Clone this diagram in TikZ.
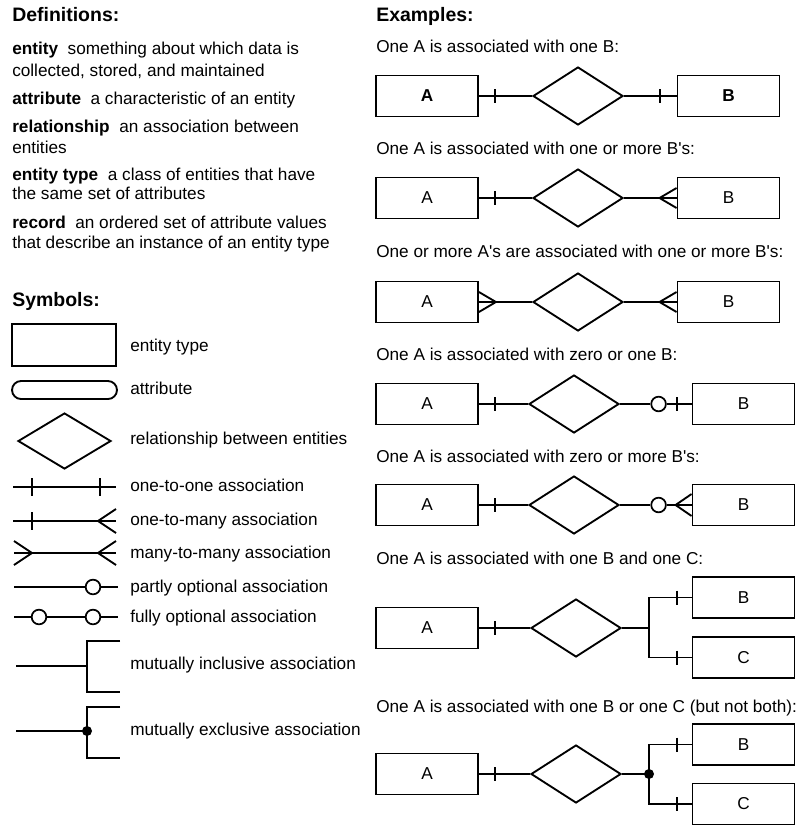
\documentclass[tikz,border=0pt]{standalone}
\usepackage{fontspec}
\setmainfont{Liberation Sans}[Ligatures=TeXOff]
\usetikzlibrary{shapes.geometric,calc}
\begin{document}
\begin{tikzpicture}[x=0.75pt,y=-0.75pt,
  txt/.style={anchor=base west, inner sep=0pt, font=\fontsize{12.9pt}{15pt}\selectfont},
  head/.style={anchor=base west, inner sep=0pt, font=\fontsize{14.6pt}{17pt}\selectfont\bfseries},
  ent/.style={draw, line width=1.4pt, minimum width=76.5pt, minimum height=30.75pt, inner sep=0pt, font=\fontsize{12.9pt}{15pt}\selectfont},
  rel/.style={draw, diamond, line width=1.4pt, minimum width=67.5pt, minimum height=43.5pt, inner sep=0pt},
  conn/.style={line width=1.4pt},
  ring/.style={circle, draw, line width=1.3pt, fill=white, minimum size=11pt, inner sep=0pt},
  dot/.style={circle, fill=black, minimum size=7.5pt, inner sep=0pt},
]
\useasboundingbox[fill=white] (0,0) rectangle (810,829);

% ---------------- Definitions ----------------
\node[head] (hdef) at (12,21) {Definitions:};
\node[txt] (d1a) at (12,54) {\textbf{entity}\ \ something about which data is};
\node[txt] (d1b) at (12,76) {collected, stored, and maintained};
\node[txt] (d2a) at (12,104) {\textbf{attribute}\ \ a characteristic of an entity};
\node[txt] (d3a) at (12,132) {\textbf{relationship}\ \ an association between};
\node[txt] (d3b) at (12,153) {entities};
\node[txt] (d4a) at (12,180) {\textbf{entity type}\ \ a class of entities that have};
\node[txt] (d4b) at (12,199) {the same set of attributes};
\node[txt] (d5a) at (12,228) {\textbf{record}\ \ an ordered set of attribute values};
\node[txt] (d5b) at (12,248) {that describe an instance of an entity type};

% ---------------- Symbols ----------------
\node[head] (hsym) at (12,306) {Symbols:};

\node[draw, line width=1.4pt, minimum width=78pt, minimum height=31.5pt, inner sep=0pt] (sent) at (64,345) {};
\node[txt] (lent) at (130,351) {entity type};

\node[draw, line width=1.4pt, rounded corners=6.75pt, minimum width=78.75pt, minimum height=13.5pt, inner sep=0pt] (satt) at (64.5,390) {};
\node[txt] (latt) at (130,394) {attribute};

\node[rel, minimum width=69.75pt, minimum height=42pt] (srel) at (64.5,441) {};
\node[txt] (lrel) at (130,444) {relationship between entities};

% one-to-one
\coordinate (oo1) at (13,487); \coordinate (oo2) at (116,487);
\draw[conn] (oo1) -- (oo2);
\draw[conn] ($(oo1)+(19,-9)$) -- ++(0,18);
\draw[conn] ($(oo2)+(-16,-9)$) -- ++(0,18);
\node[txt] (loo) at (130,491) {one-to-one association};

% one-to-many
\coordinate (om1) at (13,521); \coordinate (om2) at (116,521);
\draw[conn] (om1) -- (om2);
\draw[conn] ($(om1)+(19,-9)$) -- ++(0,18);
\draw[conn] ($(om2)+(0,-12)$) -- ($(om2)+(-18,0)$) -- ($(om2)+(0,12)$);
\node[txt] (lom) at (130,525) {one-to-many association};

% many-to-many
\coordinate (mm1) at (14,553); \coordinate (mm2) at (116,553);
\draw[conn] (mm1) -- (mm2);
\draw[conn] ($(mm1)+(0,-12)$) -- ($(mm1)+(18,0)$) -- ($(mm1)+(0,12)$);
\draw[conn] ($(mm2)+(0,-12)$) -- ($(mm2)+(-18,0)$) -- ($(mm2)+(0,12)$);
\node[txt] (lmm) at (130,558) {many-to-many association};

% partly optional
\coordinate (po1) at (14,587); \coordinate (po2) at (118,587);
\node[ring] (por) at (93,587) {};
\draw[conn] (po1) -- (por) -- (po2);
\node[txt] (lpo) at (130,592) {partly optional association};

% fully optional
\coordinate (fo1) at (14,617); \coordinate (fo2) at (118,617);
\node[ring] (fol) at (39,617) {};
\node[ring] (forr) at (93,617) {};
\draw[conn] (fo1) -- (fol) -- (forr) -- (fo2);
\node[txt] (lfo) at (130,622) {fully optional association};

% mutually inclusive
\coordinate (mi0) at (16,666); \coordinate (mij) at (87,666);
\coordinate (mit) at (120,641); \coordinate (mib) at (120,692);
\draw[conn] (mi0) -- (mij);
\draw[conn] (mit) -| (mij) |- (mib);
\node[txt] (lmi) at (130,669) {mutually inclusive association};

% mutually exclusive
\coordinate (me0) at (16,731); \coordinate (mej) at (87,731);
\coordinate (met) at (120,707); \coordinate (meb) at (120,758);
\draw[conn] (me0) -- (mej);
\draw[conn] (met) -| (mej) |- (meb);
\node[dot] (med) at (mej) {};
\node[txt] (lme) at (130,735) {mutually exclusive association};

% ---------------- Examples ----------------
\node[head] (hex) at (376,21) {Examples:};

% 1 : 1
\node[txt] (t1) at (376,52) {One A is associated with one B:};
\node[ent] (a1) at (427,96) {\textbf{A}};
\node[rel] (r1) at (578,96) {};
\node[ent] (b1) at (728.5,96) {\textbf{B}};
\draw[conn] (a1) -- (r1);
\draw[conn] (r1) -- (b1);
\draw[conn] ($(a1.east)+(16,-7)$) -- ++(0,14);
\draw[conn] ($(b1.west)+(-17,-7)$) -- ++(0,14);

% 1 : many
\node[txt] (t2) at (376,154) {One A is associated with one or more B's:};
\node[ent] (a2) at (427,198) {A};
\node[rel] (r2) at (578,198) {};
\node[ent] (b2) at (728.5,198) {B};
\draw[conn] (a2) -- (r2);
\draw[conn] (r2) -- (b2);
\draw[conn] ($(a2.east)+(16,-7)$) -- ++(0,14);
\draw[conn] ($(b2.west)+(0,-10)$) -- ($(b2.west)+(-17,0)$) -- ($(b2.west)+(0,10)$);

% many : many
\node[txt] (t3) at (376,257) {One or more A's are associated with one or more B's:};
\node[ent] (a3) at (427,302) {A};
\node[rel] (r3) at (578,302) {};
\node[ent] (b3) at (728.5,302) {B};
\draw[conn] (a3) -- (r3);
\draw[conn] (r3) -- (b3);
\draw[conn] ($(a3.east)+(0,-10)$) -- ($(a3.east)+(17,0)$) -- ($(a3.east)+(0,10)$);
\draw[conn] ($(b3.west)+(0,-10)$) -- ($(b3.west)+(-17,0)$) -- ($(b3.west)+(0,10)$);

% 1 : zero or one
\node[txt] (t4) at (376,360) {One A is associated with zero or one B:};
\node[ent] (a4) at (427,404) {A};
\node[rel] (r4) at (574,404) {};
\node[ent] (b4) at (743.5,404) {B};
\node[ring] (o4) at ($(b4.west)+(-33,0)$) {};
\draw[conn] (a4) -- (r4);
\draw[conn] (r4) -- (o4) -- (b4);
\draw[conn] ($(a4.east)+(16,-7)$) -- ++(0,14);
\draw[conn] ($(b4.west)+(-15,-7)$) -- ++(0,14);

% 1 : zero or more
\node[txt] (t5) at (376,462) {One A is associated with zero or more B's:};
\node[ent] (a5) at (427,505) {A};
\node[rel] (r5) at (574,505) {};
\node[ent] (b5) at (743.5,505) {B};
\node[ring] (o5) at ($(b5.west)+(-33,0)$) {};
\draw[conn] (a5) -- (r5);
\draw[conn] (r5) -- (o5) -- (b5);
\draw[conn] ($(a5.east)+(16,-7)$) -- ++(0,14);
\draw[conn] ($(b5.west)+(0,-11)$) -- ($(b5.west)+(-16,0)$) -- ($(b5.west)+(0,11)$);

% 1 : B and C
\node[txt] (t6) at (376,564) {One A is associated with one B and one C:};
\node[ent] (a6) at (427,628) {A};
\node[rel] (r6) at (576,628) {};
\node[ent] (b6) at (743.5,597.5) {B};
\node[ent] (c6) at (743.5,657.5) {C};
\coordinate (f6) at (649,628);
\draw[conn] (a6) -- (r6);
\draw[conn] (r6) -- (f6);
\draw[conn] (b6.west) -| (f6) |- (c6.west);
\draw[conn] ($(a6.east)+(16,-7)$) -- ++(0,14);
\draw[conn] ($(b6.west)+(-15,-7)$) -- ++(0,14);
\draw[conn] ($(c6.west)+(-15,-7)$) -- ++(0,14);

% 1 : B or C
\node[txt] (t7) at (376,712) {One A is associated with one B or one C (but not both):};
\node[ent] (a7) at (427,774) {A};
\node[rel] (r7) at (576,774) {};
\node[ent] (b7) at (743.5,744.5) {B};
\node[ent] (c7) at (743.5,804) {C};
\coordinate (f7) at (649,774);
\draw[conn] (a7) -- (r7);
\draw[conn] (r7) -- (f7);
\draw[conn] (b7.west) -| (f7) |- (c7.west);
\node[dot] (d7) at (f7) {};
\draw[conn] ($(a7.east)+(16,-7)$) -- ++(0,14);
\draw[conn] ($(b7.west)+(-15,-7)$) -- ++(0,14);
\draw[conn] ($(c7.west)+(-15,-7)$) -- ++(0,14);
\end{tikzpicture}
\end{document}
